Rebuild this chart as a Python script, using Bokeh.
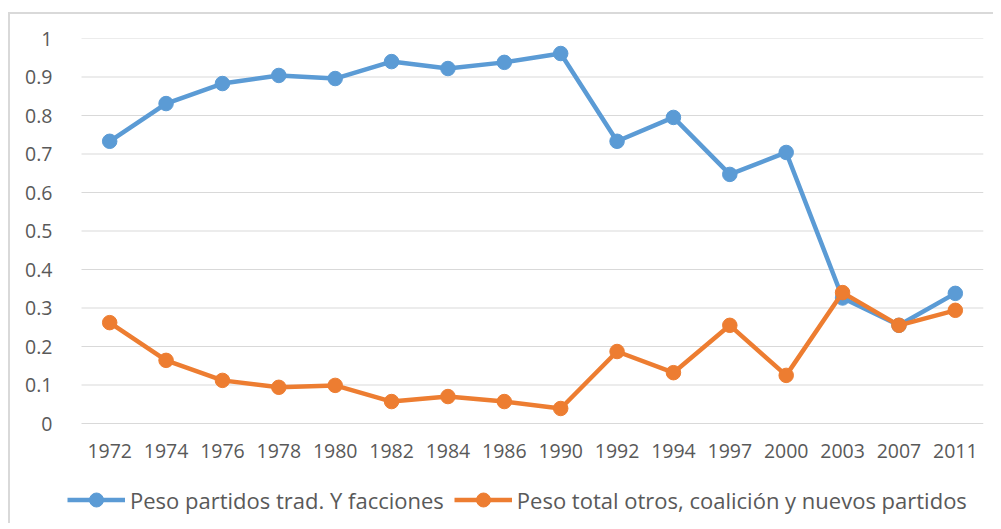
from bokeh.plotting import figure
from bokeh.models import Range1d, FixedTicker, Legend, LegendItem
from bokeh.embed import file_html
from bokeh.resources import INLINE

years = ["1972", "1974", "1976", "1978", "1980", "1982", "1984", "1986", "1990",
         "1992", "1994", "1997", "2000", "2003", "2007", "2011"]
trad = [0.733, 0.831, 0.883, 0.904, 0.896, 0.940, 0.922, 0.938, 0.961,
        0.733, 0.795, 0.647, 0.704, 0.326, 0.255, 0.338]
otros = [0.262, 0.164, 0.112, 0.094, 0.099, 0.057, 0.070, 0.057, 0.039,
         0.187, 0.132, 0.255, 0.125, 0.340, 0.255, 0.294]
yticks = [0, 0.1, 0.2, 0.3, 0.4, 0.5, 0.6, 0.7, 0.8, 0.9, 1]
ytick_labels = ["0", "0.1", "0.2", "0.3", "0.4", "0.5", "0.6", "0.7", "0.8", "0.9", "1"]
name_trad = "Peso partidos trad. Y facciones"
name_otros = "Peso total otros, coalición y nuevos partidos"

BLUE = "#5B9BD5"
ORANGE = "#ED7D31"
TXT = "#595959"
GRID = "#d9d9d9"
FONT = "Open Sans"
FS = "19.5px"
FS_LEG = "22px"

xs = list(range(len(years)))
n = len(years)
cat_w = 56.375  # px per category
x_range = Range1d(-0.5 - 17 / cat_w, n - 0.5)
y_range = Range1d(-98 / 385, 1)

p = figure(x_range=x_range, y_range=y_range,
           width=985, height=511, output_backend="svg", toolbar_location=None,
           min_border_left=54, min_border_right=12, min_border_top=24, min_border_bottom=4)
p.margin = (12, 0, 0, 8)
p.outline_line_color = None
p.styles = {"border-left": "2px solid #d9d9d9", "border-top": "2px solid #d9d9d9"}
p.xgrid.grid_line_color = None
p.ygrid.grid_line_color = None

# horizontal gridlines across the category span
p.segment(x0=[-0.5] * len(yticks), x1=[n - 0.5] * len(yticks), y0=yticks, y1=yticks,
          line_color=GRID, line_width=1.2)

l1 = p.line(xs, trad, line_color=BLUE, line_width=4.5)
s1 = p.scatter(xs, trad, size=14.5, fill_color=BLUE, line_color=BLUE)
l2 = p.line(xs, otros, line_color=ORANGE, line_width=4.5)
s2 = p.scatter(xs, otros, size=14.5, fill_color=ORANGE, line_color=ORANGE)

p.yaxis.ticker = FixedTicker(ticks=yticks)
p.yaxis.major_label_overrides = {t: l for t, l in zip(yticks, ytick_labels)}
p.xaxis.ticker = FixedTicker(ticks=xs)
p.xaxis.major_label_overrides = {i: y for i, y in zip(xs, years)}
p.xaxis.fixed_location = 0
for ax in (p.xaxis[0], p.yaxis[0]):
    ax.axis_line_color = None
    ax.major_tick_line_color = None
    ax.minor_tick_line_color = None
    ax.major_label_text_font = FONT
    ax.major_label_text_font_size = FS
    ax.major_label_text_color = TXT
p.yaxis.major_label_standoff = 6
p.xaxis.major_label_standoff = 14

legend = Legend(items=[LegendItem(label=name_trad, renderers=[l1, s1]),
                       LegendItem(label=name_otros, renderers=[l2, s2])],
                orientation="horizontal", location=(3, 4),
                border_line_color=None, background_fill_alpha=0,
                padding=0, margin=0, spacing=10, label_standoff=5,
                glyph_width=58, glyph_height=35,
                label_text_font=FONT, label_text_font_size=FS_LEG,
                label_text_color=TXT)
p.add_layout(legend, "center")

open("out.html", "w").write(file_html(p, INLINE))
